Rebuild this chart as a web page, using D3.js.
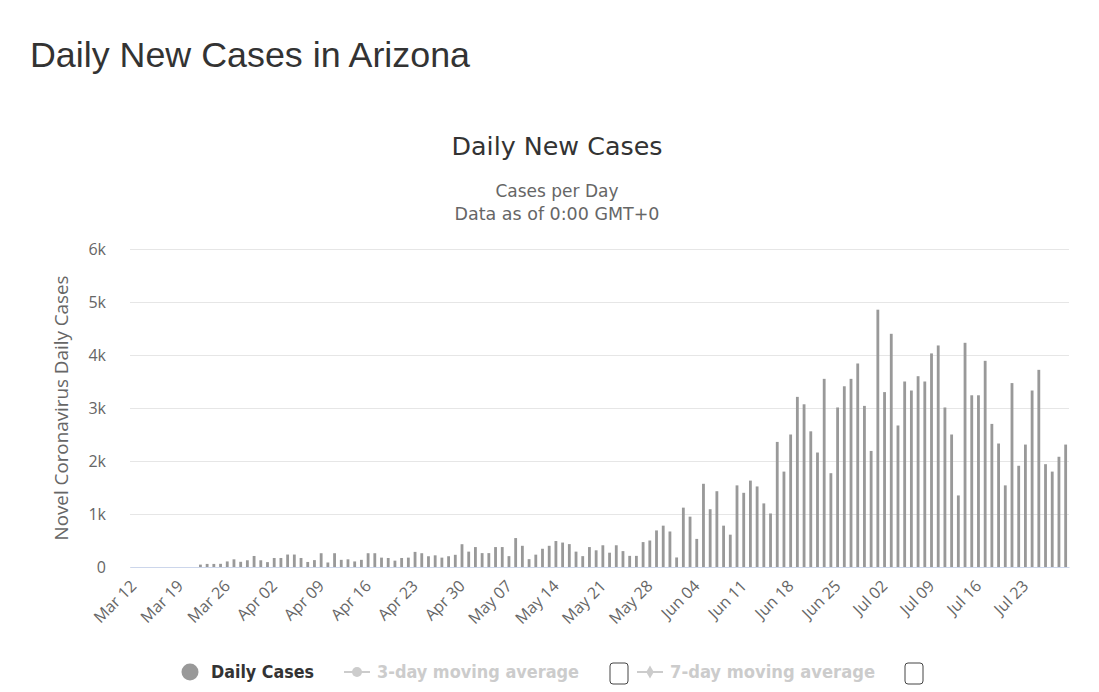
<!DOCTYPE html>
<html>
<head>
<meta charset="utf-8">
<script src="https://cdn.jsdelivr.net/npm/d3@7"></script>
<style>
    body { margin: 0; background: #fff; }
    svg { display: block; }
</style>
</head>
<body>
<div id="chart"></div>
<script>
// data
const startDay = '2020-03-12';
const dayCount = 140;

const tickLabels = ['Mar 12', 'Mar 19', 'Mar 26', 'Apr 02', 'Apr 09', 'Apr 16', 'Apr 23', 'Apr 30',
    'May 07', 'May 14', 'May 21', 'May 28', 'Jun 04', 'Jun 11', 'Jun 18', 'Jun 25',
    'Jul 02', 'Jul 09', 'Jul 16', 'Jul 23'];

const yTicks = [0, 1000, 2000, 3000, 4000, 5000, 6000];

const dailyCases = [
    0, 0, 0, 0, 0, 0, 0, 0, 0, 0,
    45, 58, 58, 60, 105, 145, 98, 127, 208, 127,
    92, 170, 170, 235, 235, 170, 95, 130, 260, 85,
    260, 135, 145, 105, 135, 260, 260, 177, 170, 120,
    170, 177, 285, 260, 203, 220, 177, 203, 230, 430,
    290, 376, 262, 262, 376, 376, 205, 546, 400, 148,
    233, 344, 400, 490, 461, 432, 290, 205, 376, 315,
    410, 270, 410, 300, 210, 210, 470, 500, 690, 780,
    670, 180, 1120, 950, 530, 1570, 1090, 1430, 780, 610,
    1540, 1400, 1630, 1520, 1200, 1010, 2360, 1800, 2500, 3210,
    3070, 2560, 2160, 3550, 1770, 3010, 3410, 3550, 3840, 3040,
    2190, 4855, 3300, 4400, 2670, 3500, 3330, 3600, 3500, 4030,
    4180, 3010, 2500, 1350, 4230, 3240, 3240, 3890, 2700, 2330,
    1540, 3470, 1910, 2310, 3330, 3720, 1940, 1800, 2080, 2310
];

const legendItems = ['Daily Cases', '3-day moving average', '7-day moving average'];

const fullWidth = 1099;
const fullHeight = 692;
const margin = { top: 249, right: 30, bottom: 125, left: 130 };
const width = fullWidth - margin.left - margin.right;
const height = fullHeight - margin.top - margin.bottom;

const parseDay = d3.timeParse('%Y-%m-%d');
const fmt = d3.timeFormat('%b %d');
const first = parseDay(startDay);
const days = d3.timeDay.range(first, d3.timeDay.offset(first, dayCount));
const rows = days.map((d, i) => ({ day: d, value: dailyCases[i] }));

const svg = d3.select('#chart').append('svg')
    .attr('width', fullWidth)
    .attr('height', fullHeight);

// page heading
svg.append('text')
    .attr('x', 30).attr('y', 67)
    .attr('textLength', 440).attr('lengthAdjust', 'spacingAndGlyphs')
    .style('font-family', '"Liberation Sans", Arial, sans-serif')
    .style('font-size', '35px')
    .style('fill', '#333')
    .text('Daily New Cases in Arizona');

// chart title + subtitle
svg.append('text')
    .attr('x', 557).attr('y', 155)
    .attr('text-anchor', 'middle')
    .attr('textLength', 211).attr('lengthAdjust', 'spacingAndGlyphs')
    .style('font-family', '"DejaVu Sans", sans-serif')
    .style('font-size', '25px')
    .style('fill', '#333')
    .text('Daily New Cases');

svg.append('text')
    .attr('x', 557).attr('y', 197)
    .attr('text-anchor', 'middle')
    .attr('textLength', 123).attr('lengthAdjust', 'spacingAndGlyphs')
    .style('font-family', '"DejaVu Sans", sans-serif')
    .style('font-size', '17px')
    .style('fill', '#666')
    .text('Cases per Day');

svg.append('text')
    .attr('x', 557).attr('y', 220)
    .attr('text-anchor', 'middle')
    .attr('textLength', 205).attr('lengthAdjust', 'spacingAndGlyphs')
    .style('font-family', '"DejaVu Sans", sans-serif')
    .style('font-size', '17px')
    .style('fill', '#666')
    .text('Data as of 0:00 GMT+0');

const g = svg.append('g').attr('transform', 'translate(' + margin.left + ',' + margin.top + ')');

// scales
const x = d3.scaleBand().domain(days).range([0, width]).paddingInner(0.58).paddingOuter(0.29);
const y = d3.scaleLinear().domain([0, 6000]).range([height, 0]);

// y axis with gridlines
const yAxisG = g.append('g').attr('class', 'y')
    .call(d3.axisLeft(y).tickValues(yTicks).tickSize(-width).tickPadding(24)
        .tickFormat(d => d === 0 ? '0' : (d / 1000) + 'k'));
yAxisG.select('.domain').remove();
yAxisG.selectAll('line').style('stroke', '#e6e6e6');
yAxisG.selectAll('text')
    .style('font-family', '"Open Sans", sans-serif')
    .style('font-size', '16px')
    .style('fill', '#666');

// y axis title
svg.append('text')
    .attr('transform', 'translate(68,' + (margin.top + height / 2) + ') rotate(-90)')
    .attr('text-anchor', 'middle')
    .attr('textLength', 265).attr('lengthAdjust', 'spacingAndGlyphs')
    .style('font-family', '"Open Sans", sans-serif')
    .style('font-size', '18px')
    .style('fill', '#666')
    .text('Novel Coronavirus Daily Cases');

// bars
g.append('g').selectAll('rect')
    .data(rows)
    .join('rect')
    .attr('x', d => x(d.day))
    .attr('width', x.bandwidth())
    .attr('y', d => y(d.value))
    .attr('height', d => height - y(d.value))
    .style('fill', '#999');

// x axis
const tickDays = days.filter(d => tickLabels.includes(fmt(d)));
const xAxisG = g.append('g').attr('class', 'x')
    .attr('transform', 'translate(0,' + height + ')')
    .call(d3.axisBottom(x).tickValues(tickDays).tickSize(0).tickSizeOuter(0).tickFormat(fmt));
xAxisG.select('.domain').style('stroke', '#ccd6eb');
xAxisG.selectAll('text')
    .attr('y', 0).attr('dy', 0)
    .attr('text-anchor', 'end')
    .attr('transform', 'translate(4,20) rotate(-45)')
    .style('font-family', '"Open Sans", sans-serif')
    .style('font-size', '16px')
    .style('fill', '#666');

// legend
const lg = svg.append('g').attr('transform', 'translate(0,672)');
const legendFont = '"DejaVu Sans Condensed", "DejaVu Sans", sans-serif';

lg.append('circle').attr('cx', 190).attr('cy', 0).attr('r', 8.5).style('fill', '#999');
lg.append('text').attr('x', 211).attr('y', 6)
    .attr('textLength', 103).attr('lengthAdjust', 'spacingAndGlyphs')
    .style('font-family', legendFont).style('font-size', '17px').style('font-weight', 'bold')
    .style('fill', '#333').text(legendItems[0]);

// 3-day item
lg.append('line').attr('x1', 344).attr('x2', 370).attr('y1', 0).attr('y2', 0)
    .style('stroke', '#ccc').style('stroke-width', 2);
lg.append('circle').attr('cx', 357).attr('cy', 0).attr('r', 5).style('fill', '#ccc');
lg.append('text').attr('x', 377).attr('y', 6)
    .attr('textLength', 202).attr('lengthAdjust', 'spacingAndGlyphs')
    .style('font-family', legendFont).style('font-size', '17px').style('font-weight', 'bold')
    .style('fill', '#ccc').text(legendItems[1]);
lg.append('rect').attr('x', 610).attr('y', -9).attr('width', 18).attr('height', 21).attr('rx', 3)
    .style('fill', '#fff').style('stroke', '#444').style('stroke-width', 1);

// 7-day item
lg.append('line').attr('x1', 637).attr('x2', 663).attr('y1', 0).attr('y2', 0)
    .style('stroke', '#ccc').style('stroke-width', 2);
lg.append('path').attr('d', d3.symbol(d3.symbolDiamond, 50)()).attr('transform', 'translate(650,0)')
    .style('fill', '#ccc');
lg.append('text').attr('x', 670).attr('y', 6)
    .attr('textLength', 205).attr('lengthAdjust', 'spacingAndGlyphs')
    .style('font-family', legendFont).style('font-size', '17px').style('font-weight', 'bold')
    .style('fill', '#ccc').text(legendItems[2]);
lg.append('rect').attr('x', 905).attr('y', -9).attr('width', 18).attr('height', 21).attr('rx', 3)
    .style('fill', '#fff').style('stroke', '#444').style('stroke-width', 1);
</script>
</body>
</html>
